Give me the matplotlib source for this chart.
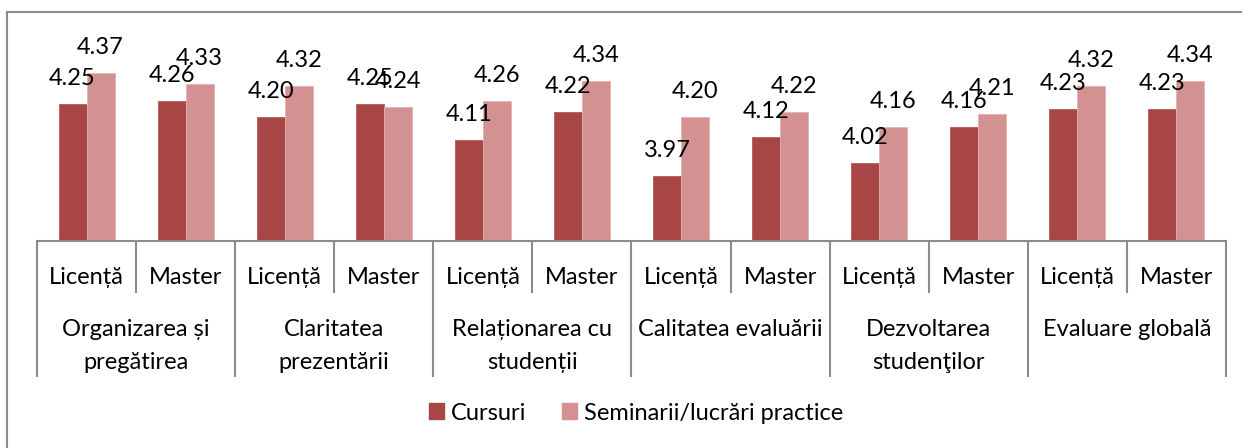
import matplotlib
matplotlib.use("Agg")
import matplotlib.pyplot as plt
from matplotlib.lines import Line2D
from matplotlib.patches import Patch
import numpy as np

plt.rcParams['font.family'] = ['Lato', 'DejaVu Sans']

groups = ["Organizarea și\npregătirea", "Claritatea\nprezentării", "Relaționarea cu\nstudenții",
          "Calitatea evaluării", "Dezvoltarea\nstudenţilor", "Evaluare globală"]
levels = ["Licență", "Master"]
cursuri = [4.25, 4.26, 4.20, 4.25, 4.11, 4.22, 3.97, 4.12, 4.02, 4.16, 4.23, 4.23]
seminarii = [4.37, 4.33, 4.32, 4.24, 4.26, 4.34, 4.20, 4.22, 4.16, 4.21, 4.32, 4.34]
series_names = ["Cursuri", "Seminarii/lucrări practice"]

W, H = 1242, 448
fig = plt.figure(figsize=(W / 100, H / 100), dpi=100)
ax = fig.add_axes([37 / W, (H - 241) / H, 1189 / W, 200 / H])

dark = "#A84645"
light = "#D39291"
gray = "#8C8C8C"
fs = 17

n = len(cursuri)
x = np.arange(n)
w = 0.283
ax.bar(x - w / 2, cursuri, w, color=dark, edgecolor="#B85A58", linewidth=0.6, bottom=0)
ax.bar(x + w / 2, seminarii, w, color=light, edgecolor="#E2B4B3", linewidth=0.6, bottom=0)
ax.set_ylim(3.715, 3.715 + 200 / 256)
ax.set_xlim(-0.5, n - 0.5)

for xi, v in zip(x - w / 2, cursuri):
    ax.annotate(f"{v:.2f}", (xi, v), xytext=(0, 13.7), textcoords="offset points",
                ha="center", va="baseline", fontsize=fs, color="black")
for xi, v in zip(x + w / 2, seminarii):
    ax.annotate(f"{v:.2f}", (xi, v), xytext=(0, 13.7), textcoords="offset points",
                ha="center", va="baseline", fontsize=fs, color="black")

# axes styling
for s in ["top", "right", "left"]:
    ax.spines[s].set_visible(False)
ax.spines["bottom"].set_color(gray)
ax.spines["bottom"].set_linewidth(1.5)
ax.set_yticks([])
ax.set_xticks(np.arange(-0.5, n, 2))
ax.set_xticks(np.arange(0.5, n, 2), minor=True)
ax.set_xticklabels([])
ax.tick_params(axis="x", which="major", length=136 * 0.72, width=1.5, color=gray, direction="out")
ax.tick_params(axis="x", which="minor", length=52 * 0.72, width=1.5, color=gray, direction="out")

# category labels
for i in range(n):
    ax.annotate(levels[i % 2], (i, 0), xycoords=("data", "axes fraction"),
                xytext=(0, -43 * 0.72), textcoords="offset points",
                ha="center", va="baseline", fontsize=fs)
for g, name in enumerate(groups):
    for k, line in enumerate(name.split("\n")):
        off = [95, 128][k] * 0.72
        ax.annotate(line, (2 * g + 0.5, 0), xycoords=("data", "axes fraction"),
                    xytext=(0, -off), textcoords="offset points",
                    ha="center", va="baseline", fontsize=fs)

# legend
handles = [Patch(facecolor=dark, edgecolor=dark), Patch(facecolor=light, edgecolor=light)]
fig.legend(handles, series_names, loc="center", bbox_to_anchor=(636 / W, (H - 413) / H),
           ncol=2, frameon=False, fontsize=fs, handlelength=0.64, handleheight=0.64,
           handletextpad=0.3, columnspacing=1.5)

# outer frame (left and top)
fig.add_artist(Line2D([7 / W, 7 / W], [0, (H - 12) / H], color=gray, lw=1.5, transform=fig.transFigure))
fig.add_artist(Line2D([7 / W, 1], [(H - 12) / H, (H - 12) / H], color=gray, lw=1.5, transform=fig.transFigure))

fig.savefig("out.png", dpi=100)
